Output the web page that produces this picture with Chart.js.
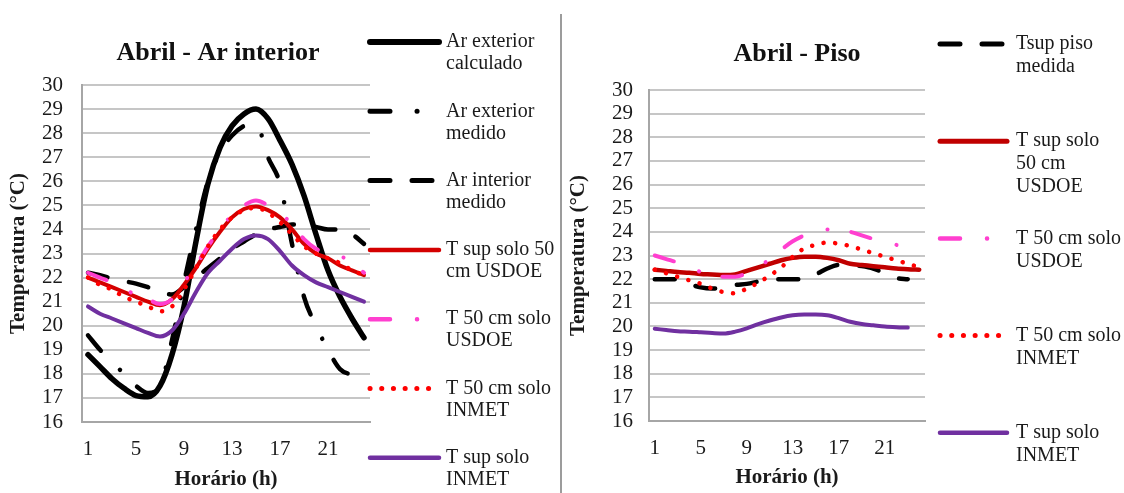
<!DOCTYPE html>
<html>
<head>
<meta charset="utf-8">
<script src="https://cdn.jsdelivr.net/npm/chart.js@4.4.1/dist/chart.umd.min.js"></script>
<style>
  body { margin: 0; background: #fff; }
  #wrap { position: relative; width: 1124px; height: 493px; overflow: hidden; background: #fff; }
  #chartInterior { position: absolute; left: 0; top: 0; }
  #chartPiso { position: absolute; left: 563px; top: 0; }
  #divisor { position: absolute; left: 560px; top: 14px; width: 2px; height: 479px; background: #9c9c9c; }
</style>
</head>
<body>
<div id="wrap">
  <canvas id="chartInterior" width="558" height="493"></canvas>
  <div id="divisor"></div>
  <canvas id="chartPiso" width="561" height="493"></canvas>
</div>
<script>
// eixo x: horas do dia
const horas = ['1','2','3','4','5','6','7','8','9','10','11','12','13','14','15','16','17','18','19','20','21','22','23','24'];
const rotulosHora = ['1', '5', '9', '13', '17', '21'];
const faixaTemp = [16, 30];

// Abril - Ar interior
const arExteriorCalculado = [18.8, 18.3, 17.8, 17.4, 17.1, 17.05, 17.5, 18.8, 20.8, 23.5, 25.9, 27.4, 28.3, 28.8, 29.0, 28.6, 27.7, 26.7, 25.4, 23.8, 22.3, 21.2, 20.3, 19.5];
const arExteriorMedido = [19.6, 19.0, 18.5, 18.0, 17.5, 17.2, 17.5, 19.4, 21.8, 24.0, 26.0, 27.2, 27.9, 28.3, 28.4, 27.0, 25.9, 23.4, 21.2, 20.0, 19.0, 18.2, 18.0, 18.0];
const arInteriorMedido = [22.2, 22.1, 21.95, 21.85, 21.75, 21.6, 21.4, 21.3, 21.6, 22.0, 22.4, 22.8, 23.2, 23.5, 23.8, 24.0, 24.1, 24.2, 24.2, 24.1, 24.0, 24.0, 23.8, 23.4];
const supSolo50Usdoe = [22.0, 21.8, 21.6, 21.4, 21.2, 21.0, 20.85, 21.1, 21.7, 22.4, 23.2, 23.9, 24.5, 24.85, 24.95, 24.8, 24.5, 24.0, 23.4, 23.0, 22.8, 22.5, 22.3, 22.1];
const solo50Usdoe = [22.2, 22.0, 21.8, 21.5, 21.3, 21.1, 20.9, 21.1, 21.8, 22.5, 23.3, 24.0, 24.6, 25.0, 25.2, 25.0, 24.7, 24.2, 23.6, 23.2, 23.0, 22.9, 22.6, 22.2];
const solo50Inmet = [22.0, 21.7, 21.5, 21.2, 21.0, 20.8, 20.6, 20.8, 21.5, 22.4, 23.3, 24.0, 24.5, 24.8, 24.9, 24.7, 24.3, 23.8, 23.3, 23.0, 22.8, 22.6, 22.3, 22.1];
const supSoloInmet = [20.8, 20.5, 20.3, 20.1, 19.9, 19.7, 19.55, 19.8, 20.5, 21.4, 22.2, 22.7, 23.2, 23.6, 23.75, 23.6, 23.1, 22.5, 22.1, 21.8, 21.6, 21.4, 21.2, 21.0];

// Abril - Piso
const supPisoMedida = [22.0, 22.0, 22.0, 21.8, 21.65, 21.6, 21.65, 21.75, 21.8, 21.9, 22.0, 22.0, 22.0, 22.0, 22.2, 22.45, 22.6, 22.6, 22.55, 22.45, 22.25, 22.05, 22.0, null];
const pisoSupSolo50Usdoe = [22.4, 22.35, 22.3, 22.27, 22.22, 22.2, 22.17, 22.2, 22.35, 22.5, 22.65, 22.8, 22.9, 22.95, 22.95, 22.9, 22.8, 22.65, 22.6, 22.55, 22.5, 22.45, 22.42, 22.4];
const pisoSolo50Usdoe = [23.0, 22.85, 22.7, 22.5, 22.3, 22.15, 22.1, 22.1, 22.25, 22.5, 22.85, 23.25, 23.6, 23.85, 24.0, 24.1, 24.1, 24.0, 23.85, 23.7, 23.55, 23.45, 23.35, null];
const pisoSolo50Inmet = [22.4, 22.25, 22.1, 21.95, 21.8, 21.6, 21.45, 21.4, 21.6, 21.85, 22.15, 22.5, 22.95, 23.3, 23.45, 23.55, 23.5, 23.4, 23.25, 23.1, 22.95, 22.8, 22.65, 22.5];
const pisoSupSoloInmet = [19.9, 19.85, 19.8, 19.78, 19.75, 19.72, 19.7, 19.78, 19.92, 20.1, 20.25, 20.38, 20.47, 20.5, 20.5, 20.47, 20.35, 20.2, 20.1, 20.05, 20.0, 19.97, 19.95, null];

const fonte = "'Liberation Serif', 'Times New Roman', serif";
Chart.defaults.font.family = fonte;
Chart.defaults.color = '#1a1a1a';

// estilos de linha (tipo Excel)
const estilo = {
    solido: { borderDash: [], borderCapStyle: 'round' },
    traco: { borderDash: [20, 22], borderCapStyle: 'round' },
    tracoPonto: { borderDash: [20, 27, 0.1, 24], borderCapStyle: 'round' },
    pontos: { borderDash: [0.1, 11.6], borderCapStyle: 'round' },
};

function serie(label, data, cor, tipo, largura, ordem) {
    return Object.assign({
        label: label,
        data: data,
        borderColor: cor,
        backgroundColor: cor,
        borderWidth: largura,
        pointRadius: 0,
        cubicInterpolationMode: 'monotone',
        fill: false,
        spanGaps: false,
        order: ordem,
    }, estilo[tipo]);
}

// titulo do painel
const tituloPainel = {
    id: 'tituloPainel',
    afterDraw(chart, args, opts) {
        const ctx = chart.ctx;
        ctx.save();
        ctx.font = 'bold 26px ' + fonte;
        ctx.fillStyle = '#111';
        ctx.textAlign = 'center';
        ctx.textBaseline = 'middle';
        ctx.fillText(opts.text, opts.x, opts.y);
        ctx.restore();
    }
};

// legenda ao lado do grafico, uma entrada por serie
const legendaLateral = {
    id: 'legendaLateral',
    afterDraw(chart, args, opts) {
        const ctx = chart.ctx;
        const x0 = chart.chartArea.right + opts.offsetX;
        ctx.save();
        chart.data.datasets.forEach((ds, i) => {
            const y = opts.top + i * opts.step;
            ctx.beginPath();
            ctx.strokeStyle = ds.borderColor;
            ctx.lineWidth = ds.borderWidth + 0.5;
            ctx.lineCap = ds.borderCapStyle;
            ctx.setLineDash(ds.borderDash);
            ctx.moveTo(x0 + 3, y);
            ctx.lineTo(x0 + opts.sampleWidth - 3, y);
            ctx.stroke();
            ctx.setLineDash([]);
            ctx.fillStyle = '#1a1a1a';
            ctx.font = '20px ' + fonte;
            ctx.textAlign = 'left';
            ctx.textBaseline = 'middle';
            ds.label.split('\n').forEach((linha, k) => {
                ctx.fillText(linha, x0 + opts.sampleWidth + opts.gap, y + k * opts.lineHeight);
            });
        });
        ctx.restore();
    }
};

function opcoes(cfg) {
    return {
        responsive: false,
        animation: false,
        layout: { padding: { top: cfg.top, right: cfg.right, bottom: 0, left: 0 } },
        plugins: {
            legend: { display: false },
            tooltip: { enabled: false },
            tituloPainel: cfg.titulo,
            legendaLateral: cfg.legenda,
        },
        scales: {
            x: {
                type: 'category',
                offset: true,
                grid: { display: false, drawTicks: false },
                border: { display: true, color: '#a6a6a6', width: 2 },
                ticks: {
                    autoSkip: false,
                    maxRotation: 0,
                    padding: 15,
                    font: { size: 21 },
                    color: '#1a1a1a',
                    callback: function (v, i) {
                        const h = horas[i];
                        return rotulosHora.includes(h) ? h : '';
                    }
                },
                title: {
                    display: true,
                    text: 'Horário (h)',
                    font: { size: 21, weight: 'bold' },
                    color: '#1a1a1a',
                    padding: { top: 0, bottom: cfg.xTitlePad }
                },
                afterFit: (scale) => { scale.height = cfg.xHeight; }
            },
            y: {
                min: faixaTemp[0],
                max: faixaTemp[1],
                grid: { color: '#c6c6c6', lineWidth: 2, drawTicks: false },
                border: { display: true, color: '#a6a6a6', width: 2 },
                ticks: {
                    stepSize: 1,
                    autoSkip: false,
                    padding: cfg.yTickPad,
                    font: { size: 21 },
                    color: '#1a1a1a'
                },
                title: {
                    display: true,
                    text: 'Temperatura (°C)',
                    font: { size: 21, weight: 'bold' },
                    color: '#1a1a1a',
                    padding: { top: cfg.yTitlePad, bottom: 0 }
                },
                afterFit: (scale) => { scale.width = cfg.yWidth; }
            }
        }
    };
}

new Chart(document.getElementById('chartInterior'), {
    type: 'line',
    data: {
        labels: horas,
        datasets: [
            serie('Ar exterior\ncalculado', arExteriorCalculado, '#000000', 'solido', 5.5, 7),
            serie('Ar exterior\nmedido', arExteriorMedido, '#000000', 'tracoPonto', 4.5, 6),
            serie('Ar interior\nmedido', arInteriorMedido, '#000000', 'traco', 4.5, 5),
            serie('T sup solo 50\ncm USDOE', supSolo50Usdoe, '#d40000', 'solido', 4, 4),
            serie('T 50 cm solo\nUSDOE', solo50Usdoe, '#ff3fcf', 'tracoPonto', 4, 3),
            serie('T 50 cm solo\nINMET', solo50Inmet, '#ff0000', 'pontos', 4.5, 2),
            serie('T sup solo\nINMET', supSoloInmet, '#7030a0', 'solido', 4, 1),
        ]
    },
    options: opcoes({
        top: 85, right: 188, yWidth: 82, xHeight: 71,
        yTickPad: 19, yTitlePad: 6, xTitlePad: 1,
        titulo: { text: 'Abril - Ar interior', x: 218, y: 53 },
        legenda: { top: 42, step: 69.3, offsetX: -3, sampleWidth: 75, gap: 4, lineHeight: 22 }
    }),
    plugins: [tituloPainel, legendaLateral]
});

new Chart(document.getElementById('chartPiso'), {
    type: 'line',
    data: {
        labels: horas,
        datasets: [
            serie('Tsup piso\nmedida', supPisoMedida, '#000000', 'traco', 4.5, 5),
            serie('T sup solo\n50 cm\nUSDOE', pisoSupSolo50Usdoe, '#c00000', 'solido', 4.5, 4),
            serie('T 50 cm solo\nUSDOE', pisoSolo50Usdoe, '#ff3fcf', 'tracoPonto', 4, 3),
            serie('T 50 cm solo\nINMET', pisoSolo50Inmet, '#ff0000', 'pontos', 4.5, 2),
            serie('T sup solo\nINMET', pisoSupSoloInmet, '#7030a0', 'solido', 4, 1),
        ]
    },
    options: opcoes({
        top: 90, right: 199, yWidth: 86, xHeight: 72,
        yTickPad: 16, yTitlePad: 3, xTitlePad: 3,
        titulo: { text: 'Abril - Piso', x: 234, y: 54 },
        legenda: { top: 44, step: 97.2, offsetX: 12, sampleWidth: 73, gap: 6, lineHeight: 23 }
    }),
    plugins: [tituloPainel, legendaLateral]
});
</script>
</body>
</html>
